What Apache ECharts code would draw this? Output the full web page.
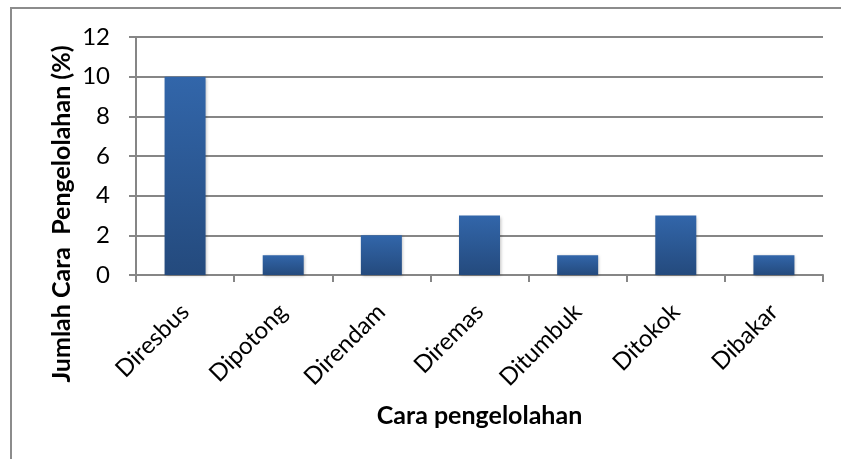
<!DOCTYPE html>
<html>
<head>
<meta charset="utf-8">
<script src="https://cdn.jsdelivr.net/npm/echarts@6/dist/echarts.min.js"></script>
<style>
html, body { margin: 0; padding: 0; background: #fff; }
#frame { position: absolute; left: 10px; top: 7px; width: 831px; height: 452px;
         border-top: 2px solid #8c8c8c; border-left: 2px solid #8c8c8c; box-sizing: border-box; }
#main { position: absolute; left: 0; top: 0; width: 841px; height: 459px; }
</style>
</head>
<body>
<div id="frame"></div>
<div id="main"></div>
<script>
// data
var categories = ['Diresbus', 'Dipotong', 'Direndam', 'Diremas', 'Ditumbuk', 'Ditokok', 'Dibakar'];
var jumlah = [10, 1, 2, 3, 1, 3, 1];
var yTitle = 'Jumlah Cara  Pengelolahan (%)';
var xTitle = 'Cara pengelolahan';

var chart = echarts.init(document.getElementById('main'));

var font = 'Lato, "Open Sans", sans-serif';

var option = {
    animation: false,
    grid: {
        left: 136,
        top: 37,
        right: 18,
        bottom: 184
    },
    // y title sits lower than the plot centre, like in the source
    graphic: [{
        type: 'text',
        x: 62,
        y: 214,
        rotation: Math.PI / 2,
        style: {
            text: yTitle,
            fill: '#000',
            font: 'bold 25px ' + font,
            align: 'center',
            verticalAlign: 'middle'
        }
    }],
    xAxis: {
        type: 'category',
        data: categories,
        name: xTitle,
        nameLocation: 'middle',
        nameGap: 128,
        nameTextStyle: { color: '#000', fontSize: 25, fontWeight: 'bold', fontFamily: font },
        axisLine: { lineStyle: { color: '#868686', width: 2 } },
        axisTick: { show: true, length: 7, alignWithLabel: false, lineStyle: { color: '#868686', width: 2 } },
        axisLabel: { rotate: 45, color: '#000', fontSize: 24, fontFamily: font, margin: 33, interval: 0 }
    },
    yAxis: {
        type: 'value',
        min: 0,
        max: 12,
        interval: 2,
        axisLine: { show: true, lineStyle: { color: '#868686', width: 2 } },
        axisTick: { show: true, length: 7, lineStyle: { color: '#868686', width: 2 } },
        axisLabel: { color: '#000', fontSize: 24, fontFamily: font, margin: 26 },
        splitLine: { show: true, lineStyle: { color: '#868686', width: 2 } }
    },
    series: [{
        type: 'bar',
        data: jumlah,
        barWidth: 41,
        itemStyle: {
            color: new echarts.graphic.LinearGradient(0, 0, 0, 1, [
                { offset: 0, color: '#3266aa' },
                { offset: 1, color: '#244a7d' }
            ]),
            shadowColor: 'rgba(0,0,0,0.25)',
            shadowBlur: 3,
            shadowOffsetX: 1,
            shadowOffsetY: 1
        }
    }]
};

chart.setOption(option);
</script>
</body>
</html>
